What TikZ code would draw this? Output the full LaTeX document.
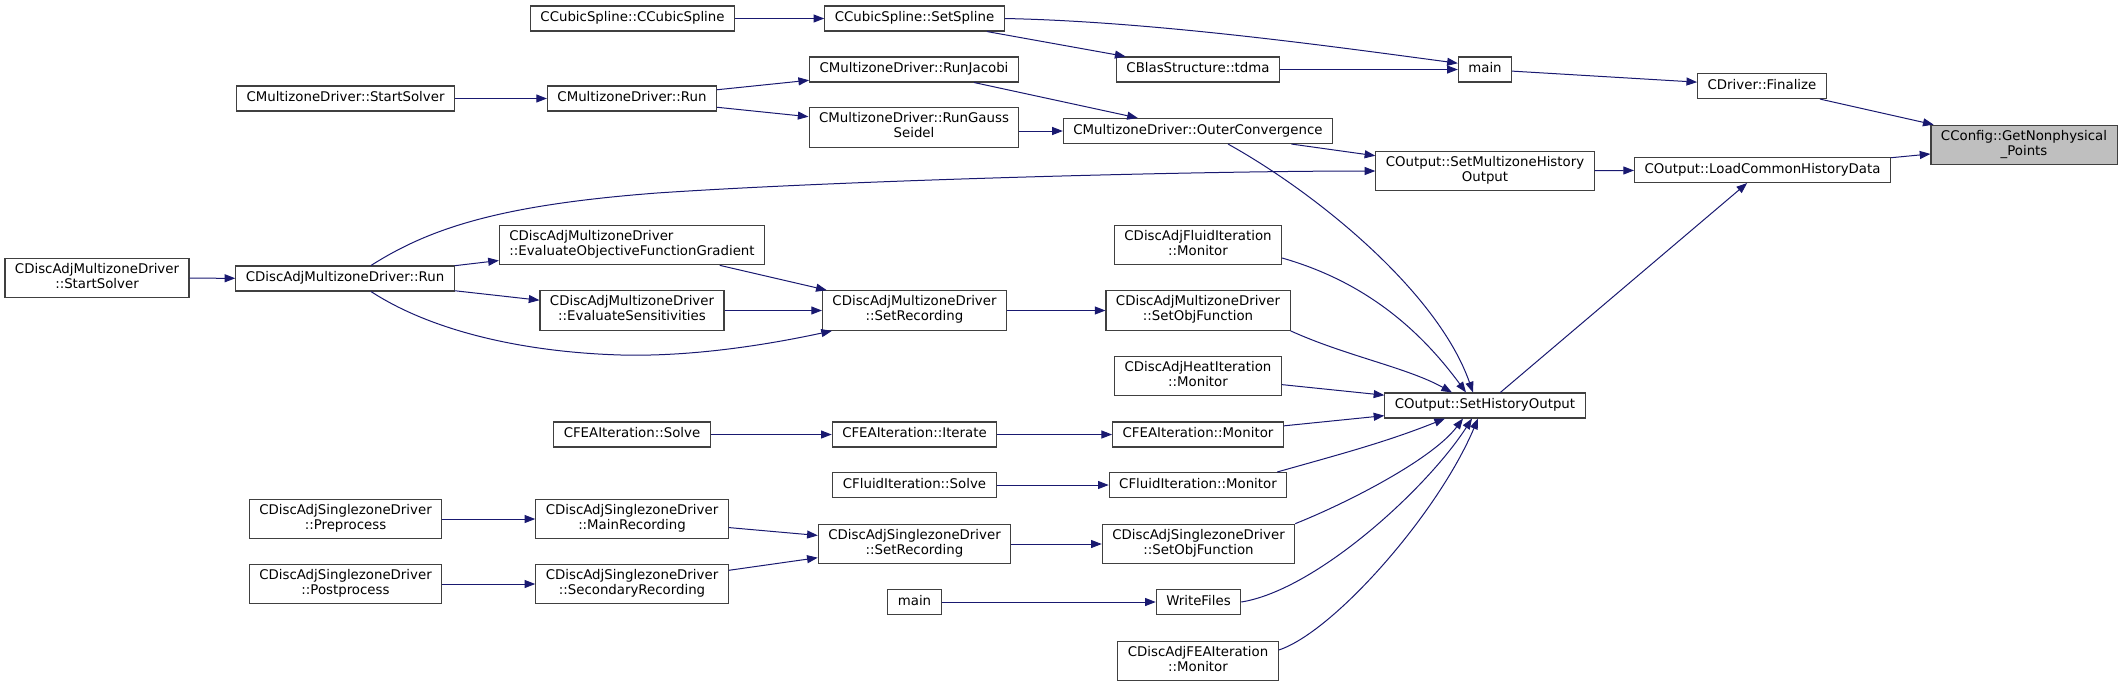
\documentclass[tikz,border=0pt]{standalone}
\usepackage{fontspec}
\setmainfont{DejaVu Sans}
\usepackage{tikz}
\usetikzlibrary{arrows.meta, calc}
\definecolor{dxedge}{HTML}{191970}
\definecolor{dxframe}{HTML}{404040}
\definecolor{dxhigh}{HTML}{BFBFBF}

\begin{document}
\begin{tikzpicture}[
    x=0.75pt, y=-0.75pt,
    font=\fontsize{10}{11.25}\selectfont,
    fn/.style={draw=dxframe, line width=0.8pt, fill=white, align=center, inner xsep=7.5pt, inner ysep=3.75pt,
      minimum height=18.75pt, execute at begin node=\strut, execute at end node=\strut},
    hl/.style={fn, fill=dxhigh},
    call/.style={-{Triangle[length=8pt, width=6pt]}, line width=0.75pt, draw=dxedge}
  ]
    \useasboundingbox (0,0) rectangle (2128,687);

    \node[fn] (ccs) at (632.5,18.5) {CCubicSpline::CCubicSpline};
    \node[fn] (ssp) at (914.5,18.5) {CCubicSpline::SetSpline};
    \node[fn] (tdma) at (1198,69.5) {CBlasStructure::tdma};
    \node[fn] (mainA) at (1485,69.5) {main};
    \node[fn] (fin) at (1762,86) {CDriver::Finalize};
    \node[hl] (cfg) at (2024,145) {CConfig::GetNonphysical\\\_Points};

    \node[fn] (mzss) at (345.5,98.5) {CMultizoneDriver::StartSolver};
    \node[fn] (mzr) at (632,98.5) {CMultizoneDriver::Run};
    \node[fn] (jac) at (914,69.5) {CMultizoneDriver::RunJacobi};
    \node[fn] (gs) at (914,127.5) {CMultizoneDriver::RunGauss\\Seidel};
    \node[fn] (oc) at (1198,131) {CMultizoneDriver::OuterConvergence};
    \node[fn] (smho) at (1485,171) {COutput::SetMultizoneHistory\\Output};
    \node[fn] (lchd) at (1762.5,170) {COutput::LoadCommonHistoryData};

    \node[fn] (damzss) at (97,278) {CDiscAdjMultizoneDriver\\::StartSolver};
    \node[fn] (damzr) at (345,278.5) {CDiscAdjMultizoneDriver::Run};
    \node[fn, align=left] (grad) at (632,245) {CDiscAdjMultizoneDriver\\::EvaluateObjectiveFunctionGradient};
    \node[fn] (sens) at (632,310.5) {CDiscAdjMultizoneDriver\\::EvaluateSensitivities};
    \node[fn] (damzrec) at (914.5,310.5) {CDiscAdjMultizoneDriver\\::SetRecording};
    \node[fn] (dafm) at (1198,245) {CDiscAdjFluidIteration\\::Monitor};
    \node[fn] (damzobj) at (1198,310.5) {CDiscAdjMultizoneDriver\\::SetObjFunction};
    \node[fn] (dahm) at (1198,376) {CDiscAdjHeatIteration\\::Monitor};
    \node[fn] (sho) at (1485,405.5) {COutput::SetHistoryOutput};

    \node[fn] (feas) at (632,434.5) {CFEAIteration::Solve};
    \node[fn] (feait) at (914.5,434.5) {CFEAIteration::Iterate};
    \node[fn] (feam) at (1198,434.5) {CFEAIteration::Monitor};
    \node[fn] (fls) at (914.5,485) {CFluidIteration::Solve};
    \node[fn] (flm) at (1198,485) {CFluidIteration::Monitor};

    \node[fn] (szpre) at (345.5,519) {CDiscAdjSinglezoneDriver\\::Preprocess};
    \node[fn] (szmain) at (632,519) {CDiscAdjSinglezoneDriver\\::MainRecording};
    \node[fn] (szrec) at (914.5,544) {CDiscAdjSinglezoneDriver\\::SetRecording};
    \node[fn] (szobj) at (1198.5,544) {CDiscAdjSinglezoneDriver\\::SetObjFunction};
    \node[fn] (szpost) at (345.5,584) {CDiscAdjSinglezoneDriver\\::Postprocess};
    \node[fn] (szsec) at (632,584) {CDiscAdjSinglezoneDriver\\::SecondaryRecording};
    \node[fn] (mainB) at (914.5,602) {main};
    \node[fn] (wf) at (1198.5,602) {WriteFiles};
    \node[fn] (dafeam) at (1198,661) {CDiscAdjFEAIteration\\::Monitor};

    \foreach \a/\b in {ccs/ssp, ssp/tdma, tdma/mainA, mainA/fin, fin/cfg, lchd/cfg, smho/lchd, sho/lchd,
        mzss/mzr, mzr/jac, mzr/gs, jac/oc, oc/smho, damzss/damzr, damzr/grad, damzr/sens,
        grad/damzrec, sens/damzrec, damzrec/damzobj, dahm/sho, feam/sho, feas/feait, feait/feam,
        fls/flm, szpre/szmain, szpost/szsec, szmain/szrec, szsec/szrec, szrec/szobj, mainB/wf}
      \draw[call] (\a) -- (\b);
    \draw[call] (gs.east |- oc.west) -- (oc.west);

    \draw[call] (ssp.east) .. controls +(150,3) and +(-120,-16) .. (mainA.167);
    \draw[call] ($(damzr.north)+(26,0)$) .. controls (430,228) and (500,205) .. (657,193)
      .. controls (850,180) and (1200,171) .. (smho.west);
    \draw[call] ($(damzr.south)+(26,0)$) .. controls (430,330) and (520,352) .. (621,355)
      .. controls (700,357) and (780,342) .. ($(damzrec.south west)+(10,0)$);

    \draw[call] ($(oc.south)+(30,0)$) .. controls +(90,50) and +(-35,-100) .. ($(sho.north)+(-12,0)$);
    \draw[call] ($(dafm.east)+(0,13)$) .. controls +(70,20) and +(-55,-75) .. ($(sho.north)+(-19,0)$);
    \draw[call] (damzobj.south east) .. controls +(55,25) and +(-45,-25) .. ($(sho.north)+(-33,0)$);
    \draw[call] ($(flm.north east)+(-10,0)$) .. controls +(60,-17) and +(-60,24) .. ($(sho.south)+(-40,0)$);
    \draw[call] (szobj.north east) .. controls +(55,-22) and +(-30,40) .. ($(sho.south)+(-22,0)$);
    \draw[call] (wf.east) .. controls +(75,-12) and +(-45,70) .. ($(sho.south)+(-13,0)$);
    \draw[call] ($(dafeam.east)+(0,-11)$) .. controls +(55,-18) and +(-40,95) .. ($(sho.south)+(-7,0)$);
  \end{tikzpicture}
\end{document}
